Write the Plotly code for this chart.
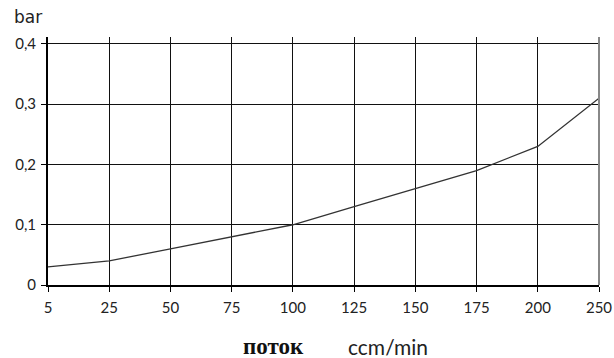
import plotly.graph_objects as go

categories = ["5", "25", "50", "75", "100", "125", "150", "175", "200", "250"]
pressure = [0.03, 0.04, 0.06, 0.08, 0.10, 0.13, 0.16, 0.19, 0.23, 0.31]
y_ticks = [0, 0.1, 0.2, 0.3, 0.4]
y_tick_labels = ["0", "0,1", "0,2", "0,3", "0,4"]

fig = go.Figure()
fig.add_trace(go.Scatter(x=categories, y=pressure, mode="lines", cliponaxis=False,
                         line=dict(color="#333333", width=1.3), showlegend=False))

tick_font = dict(family="Lato, 'DejaVu Sans', sans-serif", size=15, color="#222222")

L, R, T, B = 48, 15, 37, 73
fig.update_layout(
    width=614, height=358,
    margin=dict(l=L, r=R, t=T, b=B, autoexpand=False),
    paper_bgcolor="white", plot_bgcolor="white",
    xaxis=dict(type="category", range=[0, 9], showgrid=True, gridcolor="#111111", gridwidth=1,
               showline=True, linecolor="black", linewidth=2, ticks="outside", ticklen=5,
               tickcolor="black", tickfont=tick_font, zeroline=False, automargin=False,
               ticklabelstandoff=3),
    yaxis=dict(range=[0, 0.4116], tickvals=y_ticks, ticktext=y_tick_labels, showgrid=True,
               gridcolor="#111111", gridwidth=1, showline=True, linecolor="black", linewidth=2,
               ticks="outside", ticklen=5, tickcolor="black", tickfont=tick_font, zeroline=False,
               automargin=False, ticklabelstandoff=2),
)
pw, ph = 614 - L - R, 358 - T - B
def px(x):
    return (x - L) / pw
def py(y):
    return (358 - B - y) / ph
fig.add_annotation(text="bar", x=px(28), y=py(17), xref="paper", yref="paper", showarrow=False,
                   xanchor="center", yanchor="middle",
                   font=dict(family="'DejaVu Sans', sans-serif", size=17, color="#222222"))
fig.add_annotation(text="<b>поток</b>", x=px(273), y=py(346), xref="paper", yref="paper",
                   showarrow=False, xanchor="center", yanchor="middle",
                   font=dict(family="'Liberation Serif', 'DejaVu Serif', serif", size=23, color="#111111"))
fig.add_annotation(text="ccm/min", x=px(388), y=py(346), xref="paper", yref="paper",
                   showarrow=False, xanchor="center", yanchor="middle",
                   font=dict(family="Lato, sans-serif", size=21, color="#222222"))
fig.add_shape(type="line", xref="paper", yref="paper", x0=1, x1=1, y0=0, y1=1,
              line=dict(color="#888888", width=2))
fig.write_html("out.html", config={"displayModeBar": False},
               post_script="document.body.style.margin='0';document.body.style.overflow='hidden';")
